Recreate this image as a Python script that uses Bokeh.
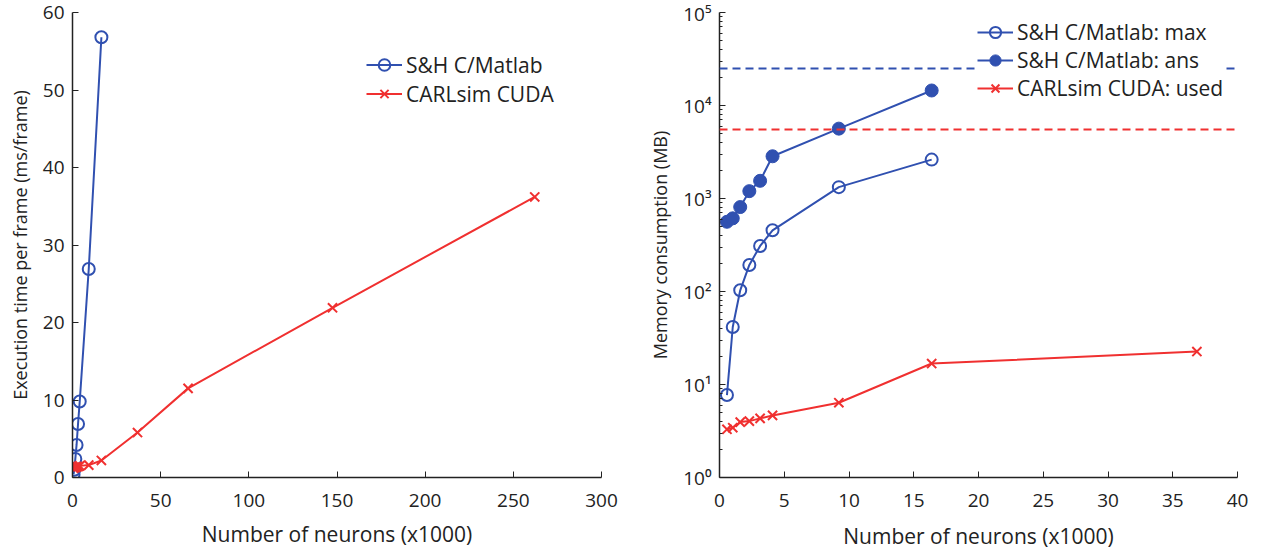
from bokeh.plotting import figure
from bokeh.layouts import row
from bokeh.models import Range1d, Legend, LegendItem, FixedTicker, CustomJSTickFormatter, Span
from bokeh.embed import file_html
from bokeh.resources import INLINE

# ---- data (left: execution time) ----
time_x_sh = [0.576, 1.024, 1.6, 2.304, 3.136, 4.096, 9.216, 16.384]
time_y_sh = [0.4, 1.0, 2.4, 4.2, 6.9, 9.8, 26.9, 56.8]
time_x_carl = [0.576, 1.024, 1.6, 2.304, 3.136, 4.096, 9.216, 16.384, 36.864, 65.536, 147.456, 262.144]
time_y_carl = [1.2, 1.3, 1.3, 1.4, 1.4, 1.5, 1.6, 2.2, 5.8, 11.5, 21.9, 36.2]
left_xticks = [0, 50, 100, 150, 200, 250, 300]
left_yticks = [0, 10, 20, 30, 40, 50, 60]

# ---- data (right: memory) ----
mem_x_sh = [0.576, 1.024, 1.6, 2.304, 3.136, 4.096, 9.216, 16.384]
mem_max = [7.7, 41.5, 103, 193, 309, 455, 1325, 2620]
mem_ans = [562, 612, 809, 1200, 1550, 2845, 5640, 14500]
mem_x_carl = [0.576, 1.024, 1.6, 2.304, 3.136, 4.096, 9.216, 16.384, 36.864]
mem_used = [3.3, 3.43, 3.94, 4.04, 4.32, 4.65, 6.37, 16.8, 22.6]
limit_sh = 25000
limit_carl = 5530
right_xticks = [0, 5, 10, 15, 20, 25, 30, 35, 40]
right_yticks = [1, 10, 100, 1000, 10000, 100000]
right_yminor = [m * d for d in [1, 10, 100, 1000, 10000] for m in range(2, 10)]

BLUE = "#3050b0"
RED = "#f03030"
FONT = "Open Sans"
TICK_FS = "19px"
XLAB_FS = "21px"
YLAB_FS = "18px"
LEG_FS = "21px"


def style(p):
    p.outline_line_color = None
    p.xgrid.visible = False
    p.ygrid.visible = False
    p.background_fill_color = "white"
    p.border_fill_color = "white"
    for ax in (p.xaxis[0], p.yaxis[0]):
        ax.axis_line_color = "#222222"
        ax.axis_line_width = 1.5
        ax.major_tick_in = 6
        ax.major_tick_out = 0
        ax.minor_tick_in = 3
        ax.minor_tick_out = 0
        ax.major_tick_line_color = "#222222"
        ax.minor_tick_line_color = "#222222"
        ax.major_label_text_font = FONT
        ax.major_label_text_font_size = TICK_FS
        ax.major_label_text_color = "#222222"
        ax.axis_label_text_font = FONT
        ax.axis_label_text_font_style = "normal"
        ax.axis_label_text_color = "#222222"
        ax.major_label_standoff = 8
        ax.axis_label_standoff = 8
    p.xaxis[0].axis_label_text_font_size = XLAB_FS
    p.yaxis[0].axis_label_text_font_size = YLAB_FS
    p.xaxis[0].major_label_standoff = 16
    p.xaxis[0].axis_label_standoff = 10


def style_legend(leg, h, pad):
    leg.label_text_font = FONT
    leg.label_text_font_size = LEG_FS
    leg.label_text_color = "#222222"
    leg.glyph_width = 36
    leg.glyph_height = h
    leg.label_height = h
    leg.spacing = 0
    leg.padding = pad
    leg.margin = 0
    leg.label_standoff = 4
    leg.border_line_color = None
    leg.background_fill_color = "white"
    leg.background_fill_alpha = 1


# ---------------- left ----------------
p1 = figure(width=640, height=552, output_backend="svg", toolbar_location=None,
            x_range=Range1d(0, 300), y_range=Range1d(0, 60),
            min_border_left=72, min_border_right=39, min_border_top=12, min_border_bottom=71)
style(p1)
p1.xaxis[0].ticker = FixedTicker(ticks=left_xticks)
p1.yaxis[0].ticker = FixedTicker(ticks=left_yticks)
p1.xaxis[0].minor_tick_line_color = None
p1.yaxis[0].minor_tick_line_color = None
p1.xaxis.axis_label = "Number of neurons (x1000)"
p1.yaxis.axis_label = "Execution time per frame (ms/frame)"

l1 = p1.line(time_x_sh, time_y_sh, line_color=BLUE, line_width=2)
s1 = p1.scatter(time_x_sh, time_y_sh, marker="circle", size=12, fill_color=None,
                line_color=BLUE, line_width=2)
l2 = p1.line(time_x_carl, time_y_carl, line_color=RED, line_width=2)
s2 = p1.scatter(time_x_carl, time_y_carl, marker="x", size=13, line_color=RED, line_width=2)

leg1 = Legend(items=[LegendItem(label="S&H C/Matlab", renderers=[l1, s1]),
                     LegendItem(label="CARLsim CUDA", renderers=[l2, s2])],
              location=(294, 369))
style_legend(leg1, 29, 4)
p1.add_layout(leg1)

# ---------------- right ----------------
p2 = figure(width=626, height=552, output_backend="svg", toolbar_location=None,
            x_range=Range1d(0, 40), y_range=Range1d(1, 1e5), y_axis_type="log",
            min_border_left=79, min_border_right=29, min_border_top=12, min_border_bottom=74)
style(p2)
p2.xaxis[0].ticker = FixedTicker(ticks=right_xticks)
p2.xaxis[0].minor_tick_line_color = None
p2.yaxis[0].ticker = FixedTicker(ticks=right_yticks, minor_ticks=right_yminor)
p2.yaxis[0].formatter = CustomJSTickFormatter(code="""
const s = ['\u2070','\u00b9','\u00b2','\u00b3','\u2074','\u2075','\u2076','\u2077','\u2078','\u2079'];
const e = Math.round(Math.log10(tick));
return '10' + s[e];
""")
p2.xaxis.axis_label = "Number of neurons (x1000)"
p2.yaxis.axis_label = "Memory consumption (MB)"
p2.xaxis[0].axis_label_standoff = 12

p2.add_layout(Span(location=limit_sh, dimension="width", line_color=BLUE,
                   line_width=2, line_dash="8 5"))
p2.add_layout(Span(location=limit_carl, dimension="width", line_color=RED,
                   line_width=2, line_dash="8 5"))

r1 = p2.line(mem_x_sh, mem_max, line_color=BLUE, line_width=2)
r1s = p2.scatter(mem_x_sh, mem_max, marker="circle", size=12, fill_color=None,
                 line_color=BLUE, line_width=2)
r2 = p2.line(mem_x_sh, mem_ans, line_color=BLUE, line_width=2)
r2s = p2.scatter(mem_x_sh, mem_ans, marker="circle", size=13, fill_color=BLUE,
                 line_color=BLUE, line_width=1)
r3 = p2.line(mem_x_carl, mem_used, line_color=RED, line_width=2)
r3s = p2.scatter(mem_x_carl, mem_used, marker="x", size=13, line_color=RED, line_width=2)

leg2 = Legend(items=[LegendItem(label="S&H C/Matlab: max", renderers=[r1, r1s]),
                     LegendItem(label="S&H C/Matlab: ans", renderers=[r2, r2s]),
                     LegendItem(label="CARLsim CUDA: used", renderers=[r3, r3s])],
              location=(258, 375))
style_legend(leg2, 28, 4)
p2.add_layout(leg2)

layout = row(p1, p2)
open("out.html", "w").write(file_html(layout, INLINE))
